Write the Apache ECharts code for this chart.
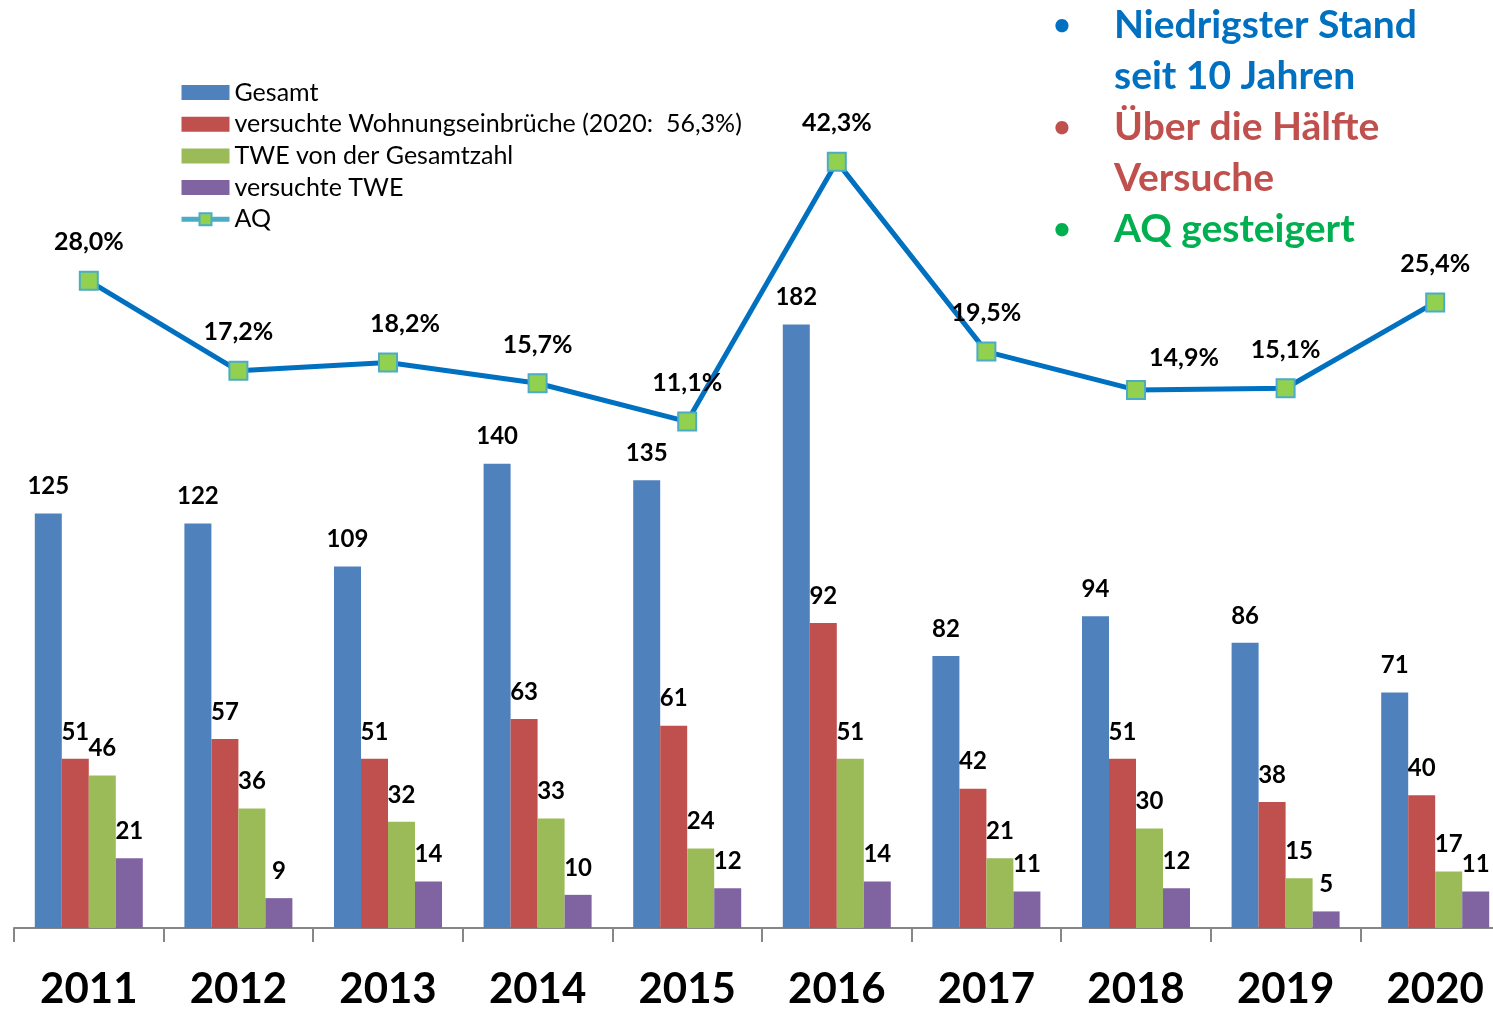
<!DOCTYPE html>
<html>
<head>
<meta charset="utf-8">
<script src="https://cdn.jsdelivr.net/npm/echarts@6/dist/echarts.min.js"></script>
<style>
    html, body {margin: 0; padding: 0; background: #fff; overflow: hidden;}
    #chart {width: 1525px; height: 1010px;}
</style>
</head>
<body>
<div id="chart"></div>
<script>
var years = ['2011', '2012', '2013', '2014', '2015', '2016', '2017', '2018', '2019', '2020'];
var gesamt = [125, 122, 109, 140, 135, 182, 82, 94, 86, 71];
var versucht = [51, 57, 51, 63, 61, 92, 42, 51, 38, 40];
var twe = [46, 36, 32, 33, 24, 51, 21, 30, 15, 17];
var tweVersucht = [21, 9, 14, 10, 12, 14, 11, 12, 5, 11];
var aq = [28.0, 17.2, 18.2, 15.7, 11.1, 42.3, 19.5, 14.9, 15.1, 25.4];

var seriesNames = ['Gesamt', 'versuchte Wohnungseinbrüche (2020:  56,3%)', 'TWE von der Gesamtzahl', 'versuchte TWE', 'AQ'];
var barColors = ['#4F81BD', '#C0504D', '#9BBB59', '#8064A2'];

var notes = [
    {text: 'Niedrigster Stand', color: '#0070C0', bullet: true},
    {text: 'seit 10 Jahren', color: '#0070C0', bullet: false},
    {text: 'Über die Hälfte', color: '#C0504D', bullet: true},
    {text: 'Versuche', color: '#C0504D', bullet: false},
    {text: 'AQ gesteigert', color: '#00B050', bullet: true}
];

// a few AQ labels sit off-centre in the original
var aqLabelShift = {2: [17, 0], 7: [48, 7]};

function fmtPercent(v) {
    return v.toFixed(1).replace('.', ',') + '%';
}

var chart = echarts.init(document.getElementById('chart'));

var barData = [gesamt, versucht, twe, tweVersucht];
var series = barData.map(function (values, i) {
    return {
        name: seriesNames[i],
        type: 'bar',
        yAxisIndex: 0,
        barWidth: 27,
        barGap: '0%',
        itemStyle: {color: barColors[i]},
        label: {
            show: true,
            position: 'top',
            distance: 15,
            color: '#000',
            fontFamily: 'Lato',
            fontWeight: 'bold',
            fontSize: 24
        },
        data: values
    };
});

series.push({
    name: seriesNames[4],
    type: 'line',
    yAxisIndex: 1,
    symbol: 'rect',
    symbolSize: 18,
    lineStyle: {color: '#0070C0', width: 5},
    itemStyle: {color: '#92D050', borderColor: '#4BACC6', borderWidth: 2},
    label: {
        show: true,
        position: 'top',
        distance: 16,
        color: '#000',
        fontFamily: 'Lato',
        fontWeight: 'bold',
        fontSize: 25,
        formatter: function (p) {
            return fmtPercent(p.value);
        }
    },
    z: 5,
    data: aq.map(function (v, i) {
        var item = {value: v};
        if (aqLabelShift[i]) {
            item.label = {offset: aqLabelShift[i]};
        }
        return item;
    })
});

var graphics = [];
notes.forEach(function (n, i) {
    var y = 25 + i * 51.2;
    if (n.bullet) {
        graphics.push({
            type: 'text',
            x: 1062, y: y,
            style: {text: '•', fill: n.color, font: 'bold 30px Lato', align: 'center', verticalAlign: 'middle'}
        });
    }
    graphics.push({
        type: 'text',
        x: 1114, y: y,
        style: {text: n.text, fill: n.color, font: 'bold 39px Lato', align: 'left', verticalAlign: 'middle'}
    });
});

var option = {
    animation: false,
    backgroundColor: '#fff',
    grid: {left: 14, top: 10, width: 1496, height: 918},
    legend: {
        orient: 'vertical',
        left: 179,
        top: 80,
        padding: 0,
        itemWidth: 48,
        itemHeight: 15,
        itemGap: 6.7,
        textStyle: {fontFamily: 'Lato', fontSize: 25, color: '#000', lineHeight: 25},
        data: [
            {name: seriesNames[0], icon: 'rect'},
            {name: seriesNames[1], icon: 'rect'},
            {name: seriesNames[2], icon: 'rect'},
            {name: seriesNames[3], icon: 'rect'},
            {name: seriesNames[4], lineStyle: {color: '#4BACC6', width: 5}}
        ]
    },
    xAxis: {
        type: 'category',
        data: years,
        axisLine: {lineStyle: {color: '#868686', width: 2}},
        axisTick: {show: true, length: 14, lineStyle: {color: '#868686', width: 2}},
        axisLabel: {
            margin: 40,
            color: '#000',
            fontFamily: 'Lato',
            fontWeight: 'bold',
            fontSize: 42
        }
    },
    yAxis: [
        {type: 'value', min: 0, max: 276.8, show: false, splitLine: {show: false}},
        {type: 'value', min: -49.68, max: 60.5, show: false, splitLine: {show: false}}
    ],
    graphic: graphics,
    series: series
};

chart.setOption(option);
</script>
</body>
</html>
